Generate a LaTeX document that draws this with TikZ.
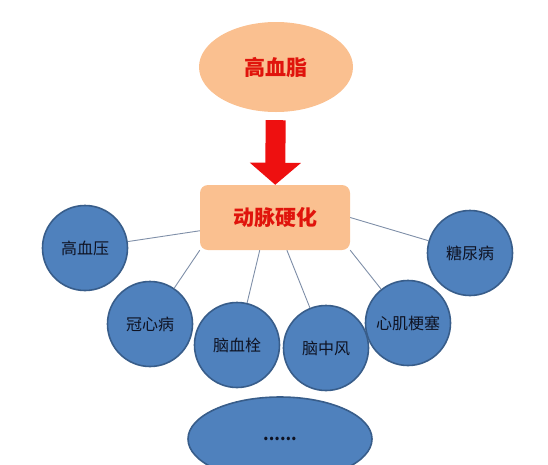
\documentclass[tikz,border=0pt]{standalone}
\usepackage{fontspec}
\setmainfont{Noto Sans CJK SC}
\usepackage{tikz}
\usetikzlibrary{shapes.geometric,arrows.meta}
\definecolor{peach}{HTML}{FAC090}
\definecolor{dzred}{HTML}{E0140C}
\definecolor{arrowred}{HTML}{EE1010}
\definecolor{ballblue}{HTML}{4F81BD}
\definecolor{ballrim}{HTML}{385D8A}
\definecolor{linkgrey}{HTML}{7F8FA8}
\definecolor{ink}{HTML}{0E1222}

\begin{document}
\begin{tikzpicture}[x=1pt,y=-1pt]
        \tikzset{disease/.style={circle, draw=ballrim, fill=ballblue, line width=1.6pt, minimum size=85pt, inner sep=0pt, text=ink, font=\fontsize{16}{16}\selectfont}}
        \tikzset{link/.style={draw=linkgrey, line width=0.9pt}}
        \useasboundingbox (0,0) rectangle (548,464);
        \clip (0,0) rectangle (548,464);

	%---NODES---
        \node[ellipse, fill=peach, minimum width=154pt, minimum height=90pt, inner sep=0pt, text=dzred, font=\fontsize{21}{21}\selectfont\bfseries] (gxz) at (276,67) {高血脂};
        \node[rectangle, rounded corners=8pt, fill=peach, minimum width=150pt, minimum height=65pt, inner sep=0pt, text=dzred, font=\fontsize{21}{21}\selectfont\bfseries] (dm) at (275,217.5) {动脉硬化};

        \node[disease] (gxy) at (85,248) {高血压};
        \node[disease] (gxb) at (150,324) {冠心病};
        \node[disease] (nxs) at (237,345) {脑血栓};
        \node[disease] (nzf) at (326,348) {脑中风};
        \node[disease] (xjgs) at (408,323) {心肌梗塞};
        \node[disease] (tnb) at (470,253) {糖尿病};

        \node[ellipse, draw=ballrim, fill=ballblue, line width=1.6pt, minimum width=184pt, minimum height=84pt, inner sep=0pt, text=ink, font=\fontsize{16}{16}\selectfont\bfseries] (more) at (280,439) {......};

	%---EDGES---
        \draw[arrowred, line width=20pt, -{Triangle[width=50pt,length=22pt]}, shorten <=8pt] (gxz) -- (dm) ;

        \draw[link]   (dm.190) -- (gxy) ;
        \draw[link]   (dm.south west) -- (gxb) ;
        \draw[link]   (dm.-115) -- (nxs) ;
        \draw[link]   (dm.-70) -- (nzf) ;
        \draw[link]   (dm.south east) -- (xjgs) ;
        \draw[link]   (dm.east) -- (tnb) ;

\end{tikzpicture}
\end{document}
